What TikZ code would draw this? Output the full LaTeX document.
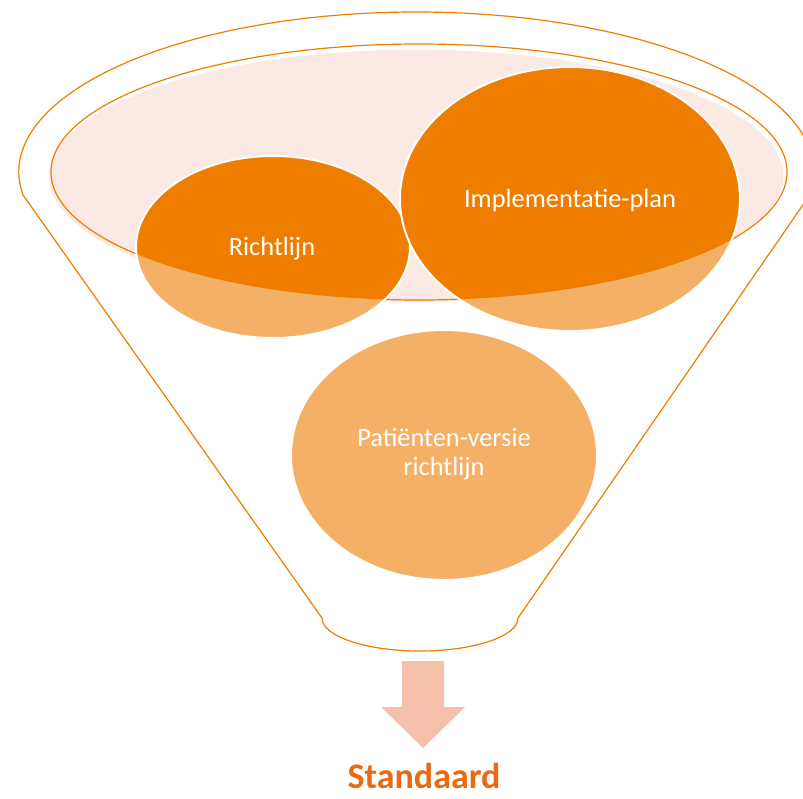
\documentclass[tikz,border=0pt]{standalone}
\usepackage{fontspec}
\setmainfont{Carlito}
\definecolor{dkor}{HTML}{EF7D00}
\definecolor{ltor}{HTML}{F4B066}
\definecolor{pinkf}{HTML}{FBE9E3}
\definecolor{arrowc}{HTML}{F5C0AA}
\definecolor{stdc}{HTML}{E96A14}
\tikzset{
  outline/.style={draw=dkor, line width=1.2pt},
  bubbleborder/.style={draw=white, line width=2pt},
  bubbletext/.style={text=white, font=\fontsize{26.4}{28.5}\selectfont, align=center, inner sep=0pt},
}
\begin{document}
\begin{tikzpicture}[x=1pt,y=-1pt]
\useasboundingbox (0,0) rectangle (803,798);
\begin{scope}
\clip (0,0) rectangle (803,798);
% funnel outline
\path[outline] (23,195) arc[start angle=188.27, end angle=-8.27, x radius=397.5pt, y radius=160pt]
  -- (518,618) arc[start angle=0, end angle=-180, x radius=98pt, y radius=33pt] -- cycle;
% inner ellipse
\path[fill=pinkf, draw=white, line width=1.5pt] (416,176) ellipse[x radius=368pt, y radius=127pt];
\path[outline] (419,172) ellipse[x radius=368pt, y radius=128pt];
% Richtlijn
\fill[ltor] (273,247) ellipse[x radius=137pt, y radius=91pt];
\begin{scope}
\clip (419,172) ellipse[x radius=368pt, y radius=128pt];
\fill[dkor] (273,247) ellipse[x radius=137pt, y radius=91pt];
\end{scope}
\path[bubbleborder] (273,247) ellipse[x radius=137pt, y radius=91pt];
% Implementatie-plan
\fill[ltor] (570,199) ellipse[x radius=170pt, y radius=132pt];
\begin{scope}
\clip (419,172) ellipse[x radius=368pt, y radius=128pt];
\fill[dkor] (570,199) ellipse[x radius=170pt, y radius=132pt];
\end{scope}
\path[bubbleborder] (570,199) ellipse[x radius=170pt, y radius=132pt];
% Patienten-versie
\path[fill=ltor, bubbleborder] (444,455) ellipse[x radius=153pt, y radius=125pt];
\end{scope}
% texts
\node[bubbletext, anchor=base] (richt) at (272,255) {Richtlijn};
\node[bubbletext, anchor=base] (impl) at (570,207) {Implementatie-plan};
\node[bubbletext, anchor=base] (pat1) at (444,446.7) {Patiënten-versie};
\node[bubbletext, anchor=base] (pat2) at (444,475) {richtlijn};
% arrow
\fill[arrowc] (402,661) -- (444,661) -- (444,707) -- (465,707) -- (423,748) -- (381,707) -- (402,707) -- cycle;
\node[text=stdc, font=\fontsize{36}{40}\selectfont\bfseries, anchor=base, inner sep=0pt] (std) at (424,788) {Standaard};
\end{tikzpicture}
\end{document}
